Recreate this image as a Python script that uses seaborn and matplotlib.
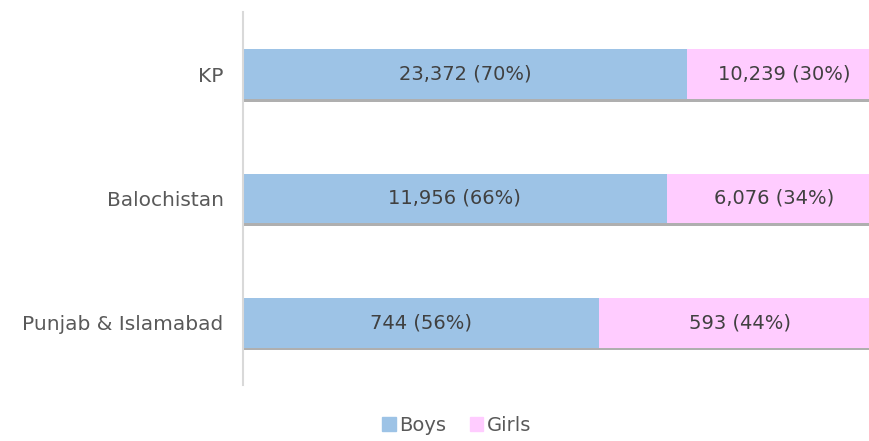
import numpy as np
import pandas as pd
import matplotlib
matplotlib.use('Agg')
import matplotlib.pyplot as plt
import matplotlib.patheffects as pe
from matplotlib.patches import Patch
import seaborn as sns

# data
regions = ['KP', 'Balochistan', 'Punjab & Islamabad']
boys = [23372, 11956, 744]
girls = [10239, 6076, 593]
boys_pct = ['70%', '66%', '56%']
girls_pct = ['30%', '34%', '44%']

boys_col = '#9DC3E6'
girls_col = '#FFCCFF'
text_col = '#404040'
label_col = '#595959'

df = pd.DataFrame({'Region': regions, 'Boys': boys, 'Girls': girls})
df['Total'] = df['Boys'] + df['Girls']
df['BoysShare'] = df['Boys'] / df['Total']
df['AllShare'] = 1.0

sns.set_style('white')
plt.rcParams['font.family'] = ['DejaVu Sans']

fig = plt.figure(figsize=(8.7, 4.41), dpi=100)
ax = fig.add_axes([0.2793, 0.127, 0.7345, 0.846])

# full bar (girls) behind, then boys on top
sns.barplot(data=df, y='Region', x='AllShare', color=girls_col, orient='h',
            width=0.4, saturation=1, linewidth=0, ax=ax)
for p in ax.patches:
    p.set_path_effects([pe.SimplePatchShadow(offset=(1, -2), shadow_rgbFace='#606060', alpha=0.5),
                        pe.Normal()])
sns.barplot(data=df, y='Region', x='BoysShare', color=boys_col, orient='h',
            width=0.4, saturation=1, linewidth=0, ax=ax)

for i, r in df.iterrows():
    bs = r['BoysShare']
    ax.text(bs / 2, i, f"{r['Boys']:,} ({boys_pct[i]})", ha='center', va='center',
            fontsize=14, color=text_col)
    ax.text(bs + (1 - bs) / 2, i, f"{r['Girls']:,} ({girls_pct[i]})", ha='center', va='center',
            fontsize=14, color=text_col)

ax.set_xlim(0, 1)
ax.set_ylim(2.5, -0.5)
ax.set_xlabel('')
ax.set_ylabel('')
ax.set_xticks([])
ax.tick_params(axis='y', length=0, labelsize=14.5, labelcolor=label_col, pad=14)
for s in ['top', 'right', 'bottom']:
    ax.spines[s].set_visible(False)
ax.spines['left'].set_color('#D9D9D9')
ax.spines['left'].set_linewidth(1.5)

handles = [Patch(color=boys_col, label='Boys'), Patch(color=girls_col, label='Girls')]
fig.legend(handles=handles, loc='lower center', bbox_to_anchor=(0.525, -0.025), ncol=2,
           frameon=False, fontsize=14, handlelength=0.7, handleheight=0.7,
           handletextpad=0.2, columnspacing=1.2, labelcolor=label_col)

fig.savefig('out.png', dpi=100)
